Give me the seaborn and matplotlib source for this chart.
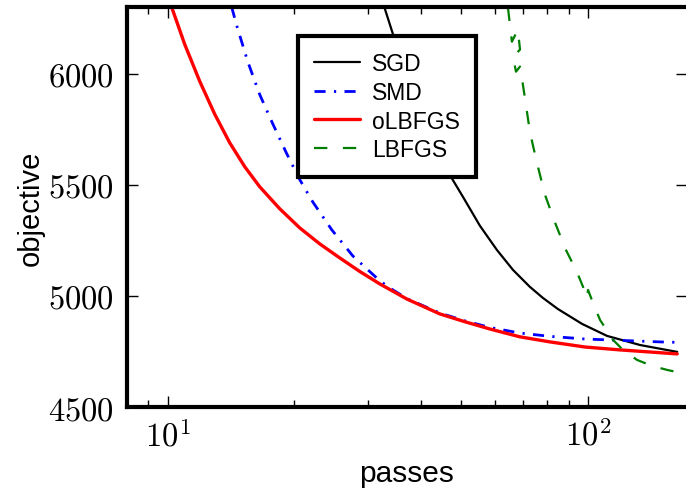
import numpy as np
import pandas as pd
import seaborn as sns
import matplotlib
matplotlib.use('Agg')
import matplotlib.pyplot as plt
from matplotlib.ticker import FuncFormatter, NullFormatter, LogLocator, FixedLocator

# 데이터
sgd_x = [32.8, 34.5, 37.7, 42.06, 46.4, 50.4, 55.3, 60.7, 66.3, 72.7, 78.1, 84.8, 96.8, 111,
         133, 163]
sgd_y = [6297, 6167, 5964, 5734, 5559, 5446, 5316, 5207, 5117, 5041, 4991, 4941, 4874, 4820,
         4779, 4748]

smd_x = [14.2, 14.6, 15.51, 16.56, 17.78, 19.2, 20.62, 22.14, 24.58, 27.57, 31.96, 34.33,
         37.27, 44.4, 51.1, 58.44, 68.8, 81.2, 98.4, 119.2, 148.4, 163]
smd_y = [6300, 6216, 6054, 5906, 5775, 5640, 5523, 5423, 5297, 5180, 5068, 5027, 4986, 4923,
         4887, 4858, 4833, 4818, 4806, 4800, 4793, 4791]

olbfgs_x = [10.22, 10.98, 11.92, 12.94, 14.05, 15.26, 16.56, 18.48, 20.62, 23.01, 25.67, 28.64,
            31.96, 37.07, 44.4, 51.1, 58.44, 68.8, 81.2, 98.4, 119.2, 163]
olbfgs_y = [6300, 6132, 5966, 5818, 5689, 5581, 5491, 5392, 5306, 5234, 5171, 5110, 5054, 4986,
            4919, 4883, 4851, 4816, 4793, 4770, 4757, 4739]

lbfgs_x = [64.5, 65.9, 68.1, 68.9, 66.3, 67.4, 68.9, 70.0, 72.8, 75.6, 79.0, 83.5, 88.6,
           94.1, 97.3, 99.5, 100, 102.8, 106.8, 114.7, 121.1, 130.8, 142, 154.2, 163]
lbfgs_y = [6297, 6144, 6198, 6108, 6077, 6009, 6032, 5951, 5734, 5599, 5455, 5329, 5207,
           5108, 5041, 4991, 5027, 4968, 4892, 4802, 4757, 4712, 4685, 4667, 4657]

yticks = [4500, 5000, 5500, 6000]

sns.set_style('ticks')
plt.rcParams['font.family'] = ['Liberation Sans', 'DejaVu Sans']
plt.rcParams['mathtext.fontset'] = 'cm'
for k in ['text.color', 'axes.labelcolor', 'xtick.color', 'ytick.color', 'axes.edgecolor']:
    plt.rcParams[k] = 'black'

fig = plt.figure(figsize=(6.86, 4.89), dpi=100)
ax = fig.add_axes([0.185, 0.1656, 0.8165, 0.818])

sns.lineplot(x=sgd_x, y=sgd_y, ax=ax, sort=False, estimator=None, color='black',
             lw=1.6, label='SGD')
sns.lineplot(x=smd_x, y=smd_y, ax=ax, sort=False, estimator=None, color='#0000ff',
             lw=2.0, linestyle=(0, (4, 3, 0.8, 3)), label='SMD')
sns.lineplot(x=olbfgs_x, y=olbfgs_y, ax=ax, sort=False, estimator=None, color='#ff0000',
             lw=2.4, label='oLBFGS')
sns.lineplot(x=lbfgs_x, y=lbfgs_y, ax=ax, sort=False, estimator=None, color='#007f00',
             lw=1.6, linestyle=(0, (6, 7)), label='LBFGS')

ax.set_xscale('log')
ax.set_xlim(8, 172)
ax.set_ylim(4500, 6300)
ax.yaxis.set_major_locator(FixedLocator(yticks))
ax.xaxis.set_major_locator(LogLocator(base=10))
ax.xaxis.set_minor_locator(LogLocator(base=10, subs=np.arange(2, 10)))
ax.xaxis.set_major_formatter(FuncFormatter(lambda v, p: r'$10^{%d}$' % round(np.log10(v))))
ax.xaxis.set_minor_formatter(NullFormatter())
ax.yaxis.set_major_formatter(FuncFormatter(lambda v, p: r'$%d$' % v))

ax.tick_params(which='both', direction='in', top=True, right=True, labelsize=23.5, width=1, pad=9)
ax.tick_params(which='major', length=8)
ax.tick_params(which='minor', length=5)
for s in ax.spines.values():
    s.set_linewidth(3)

ax.set_xlabel('passes', fontsize=21.5, labelpad=5)
ax.set_ylabel('objective', fontsize=21, labelpad=3)

leg = ax.legend(loc='upper left', bbox_to_anchor=(0.306, 0.9275), borderaxespad=0,
                fontsize=16.5, frameon=True, fancybox=False, framealpha=1, handlelength=2.0,
                handletextpad=0.5, labelspacing=0.25, borderpad=0.7)
leg.get_frame().set_edgecolor('black')
leg.get_frame().set_linewidth(3)

fig.savefig('out.png', dpi=100)
